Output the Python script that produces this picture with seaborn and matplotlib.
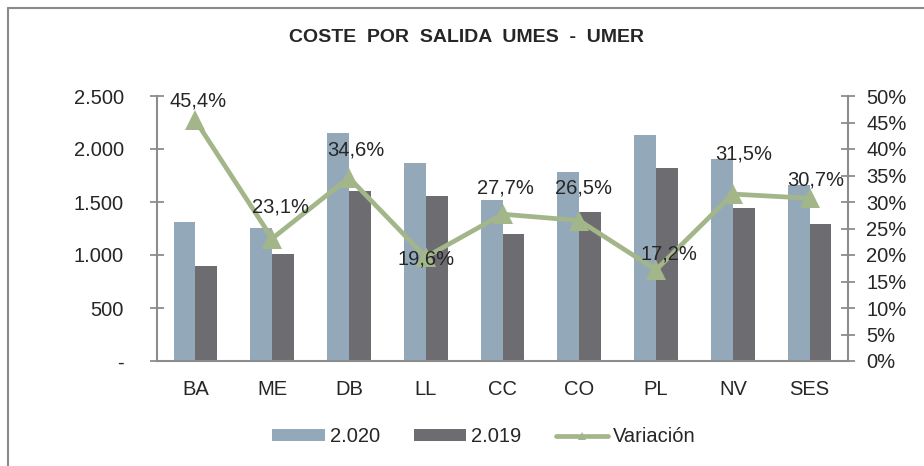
import numpy as np
import pandas as pd
import matplotlib
matplotlib.use("Agg")
import matplotlib.pyplot as plt
import matplotlib.ticker as mticker
from matplotlib.lines import Line2D
from matplotlib.patches import Patch
import seaborn as sns

categories = ["BA", "ME", "DB", "LL", "CC", "CO", "PL", "NV", "SES"]
coste_2020 = [1308, 1257, 2150, 1867, 1521, 1785, 2131, 1902, 1660]
coste_2019 = [896, 1012, 1603, 1556, 1194, 1408, 1820, 1440, 1292]
variacion = [45.4, 23.1, 34.6, 19.6, 27.7, 26.5, 17.2, 31.5, 30.7]
series_names = ["2.020", "2.019", "Variación"]

# label offsets in pixels (dx, dy) relative to each point
label_offsets = [(3, 19), (8, 32), (7, 28), (0, -2), (3, 26), (4, 33), (13, 16), (11, 40), (6, 18)]

col_2020 = "#93a9b9"
col_2019 = "#6d6c71"
col_var = "#a3b68a"
col_axis = "#8c8c8c"

sns.set_style("white")
plt.rcParams["font.family"] = ["Liberation Sans", "DejaVu Sans"]
FS = 14.5

df = pd.DataFrame({
    "cat": categories * 2,
    "valor": coste_2020 + coste_2019,
    "serie": [series_names[0]] * len(categories) + [series_names[1]] * len(categories),
})

fig = plt.figure(figsize=(9.24, 4.66), dpi=100)
ax = fig.add_axes([157 / 924, 1 - 361 / 466, (848 - 157) / 924, (361 - 96) / 466])

sns.barplot(data=df, x="cat", y="valor", hue="serie", order=categories,
            hue_order=series_names[:2], palette=[col_2020, col_2019],
            width=0.57, gap=0, saturation=1, linewidth=0, ax=ax, legend=False)
ax.set_xlim(-0.5, len(categories) - 0.5)
ax.set_ylim(0, 2500)
ax.set_yticks(np.arange(0, 2501, 500))
ax.yaxis.set_major_formatter(mticker.FuncFormatter(
    lambda v, p: "-" if v == 0 else f"{int(v):,}".replace(",", ".")))
ax.set_xlabel("")
ax.set_ylabel("")
ax.set_xticks(range(len(categories)))
ax.set_xticklabels(categories)
ax.set_xticks(np.arange(-0.5, len(categories), 1), minor=True)
ax.tick_params(axis="x", which="major", length=0, pad=14, labelsize=FS)
ax.tick_params(axis="x", which="minor", length=10, direction="inout", color=col_axis, width=1.3)
ax.tick_params(axis="y", length=10, direction="inout", color=col_axis, width=1.3, pad=19, labelsize=FS)
for s in ["top", "right"]:
    ax.spines[s].set_visible(False)
for s in ["left", "bottom"]:
    ax.spines[s].set_color(col_axis)
    ax.spines[s].set_linewidth(1.5)

ax2 = ax.twinx()
pos = np.arange(len(categories))
sns.lineplot(x=pos, y=variacion, color=col_var, linewidth=3.4, marker="^",
             markersize=14, markeredgewidth=0, ax=ax2, legend=False)
ax2.set_ylim(0, 50)
ax2.set_yticks(np.arange(0, 51, 5))
ax2.yaxis.set_major_formatter(mticker.FuncFormatter(lambda v, p: f"{int(v)}%"))
ax2.tick_params(axis="y", length=10, direction="inout", color=col_axis, width=1.3, pad=8, labelsize=FS)
for s in ["top", "left", "bottom"]:
    ax2.spines[s].set_visible(False)
ax2.spines["right"].set_color(col_axis)
ax2.spines["right"].set_linewidth(1.5)
ax2.set_xlim(-0.5, len(categories) - 0.5)

for i, v in enumerate(variacion):
    dx, dy = label_offsets[i]
    ax2.annotate(f"{v:.1f}%".replace(".", ","), (i, v), xytext=(dx, dy),
                 textcoords="offset pixels", ha="center", va="center", fontsize=FS)

fig.text(0.5 + 0.005, 1 - 38 / 466, "COSTE  POR  SALIDA  UMES  -  UMER", ha="center", va="center",
         fontsize=14, fontweight="bold")

handles = [
    Patch(facecolor=col_2020, edgecolor="none"),
    Patch(facecolor=col_2019, edgecolor="none"),
    Line2D([0], [0], color=col_var, linewidth=3.4, marker="^", markersize=6, markeredgewidth=0),
]
fig.legend(handles, series_names, loc="center", bbox_to_anchor=(0.524, 1 - 437 / 466), ncol=3,
           frameon=False, fontsize=FS, handlelength=2.6, handleheight=0.55, handletextpad=0.25,
           columnspacing=1.7)

# outer chart frame
x0, ytop = 8 / 924, 1 - 8 / 466
fig.add_artist(Line2D([x0, x0], [0, ytop], color="#8a8a8a", linewidth=1.5, transform=fig.transFigure))
fig.add_artist(Line2D([x0, 1], [ytop, ytop], color="#8a8a8a", linewidth=1.5, transform=fig.transFigure))

fig.savefig("out.png", dpi=100, facecolor="white")
